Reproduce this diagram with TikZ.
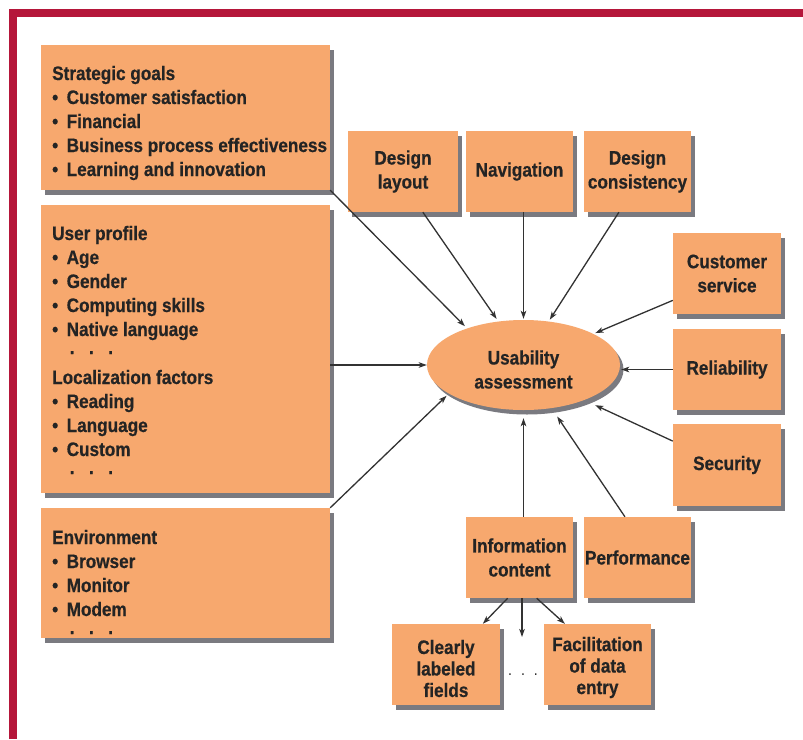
\documentclass[tikz,border=0pt]{standalone}
\usepackage{fontspec}
\setmainfont{Liberation Sans}[FakeStretch=0.88, BoldFeatures={FakeBold=0.6}]
\usetikzlibrary{arrows.meta,shapes.geometric,shadows,calc}

\definecolor{boxfill}{RGB}{247,168,110}
\definecolor{shadowgray}{RGB}{122,122,128}
\definecolor{framered}{RGB}{181,22,58}
\definecolor{ink}{RGB}{36,36,36}
\definecolor{wire}{RGB}{50,50,50}

% bullet with its gap, and the raised "more items" dots
\newcommand\itm{•\hspace{8.5pt}}
\newcommand\moreitems{\raisebox{6pt}{\hspace{17.5pt}.\hspace{14.5pt}.\hspace{14.5pt}.}}

\begin{document}
\begin{tikzpicture}[x=1pt,y=-1pt,
  card/.style={rectangle, fill=boxfill, inner sep=0pt,
    drop shadow={shadow xshift=3.5pt, shadow yshift=-4.5pt, fill=shadowgray, opacity=1}},
  labelfont/.style={text=ink, font=\bfseries\fontsize{19.5}{24}\selectfont},
  tile/.style={card, minimum width=107pt, minimum height=81pt, align=center, labelfont},
  caption/.style={inner sep=0pt, align=center, labelfont},
  listtext/.style={anchor=base west, inner sep=0pt, align=left, labelfont},
  conn/.style={draw=wire, line width=1.3pt, -{Stealth[length=8pt,width=5.5pt,inset=2pt]}},
]
\useasboundingbox (0,0) rectangle (803,739);
\fill[white] (0,0) rectangle (803,739);

% frame
\draw[framered, line width=7.7pt] (12.85,739) -- (12.85,12.85) -- (803,12.85);

% left panels
\node[card, minimum width=289pt, minimum height=145pt] (sg) at (185.5,117.5) {};
\node[card, minimum width=289pt, minimum height=288pt] (up) at (185.5,349) {};
\node[card, minimum width=289pt, minimum height=130pt] (env) at (185.5,573) {};

% list texts, anchored at the baseline of their last line
\node[listtext] (sgtext) at (52,176) {Strategic goals\\
  \itm Customer satisfaction\\
  \itm Financial\\
  \itm Business process effectiveness\\
  \itm Learning and innovation};
\node[listtext] (uptext) at (52,480) {User profile\\
  \itm Age\\
  \itm Gender\\
  \itm Computing skills\\
  \itm Native language\\
  \moreitems\\
  Localization factors\\
  \itm Reading\\
  \itm Language\\
  \itm Custom\\
  \moreitems};
\node[listtext] (envtext) at (52,640) {Environment\\
  \itm Browser\\
  \itm Monitor\\
  \itm Modem\\
  \moreitems};

% top row
\node[tile, minimum width=110pt] (dl) at (403,171.5) {Design\\layout};
\node[tile] (nav) at (519.5,171.5) {Navigation};
\node[tile] (dc) at (637.5,171.5) {Design\\consistency};

% right column
\node[tile, minimum width=108pt] (cs) at (727,273.5) {Customer\\service};
\node[tile, minimum width=108pt] (rel) at (727,369.5) {Reliability};
\node[tile, minimum width=108pt, minimum height=82pt] (sec) at (727,465) {Security};

% bottom row
\node[tile] (info) at (519.5,557.5) {Information\\content};
\node[tile] (perf) at (637.5,557.5) {Performance};
\node[tile, minimum width=108pt] (cl) at (446,664.5) {};
\node[caption, font=\bfseries\fontsize{19.5}{21.5}\selectfont] (cltext) at (446,668.5) {Clearly\\labeled\\fields};
\node[tile] (fac) at (597.5,664.5) {};
\node[caption, font=\bfseries\fontsize{19.5}{21.5}\selectfont] (factext) at (597.5,667.5) {Facilitation\\of data\\entry};
\node[text=ink, inner sep=0pt, font=\fontsize{16}{18}\selectfont] (gap) at (523,675) {.\hspace{9pt}.\hspace{9pt}.};

% centre
\node[card, ellipse, minimum width=193pt, minimum height=90pt] (ua) at (523.5,365) {};
\node[caption] (uatext) at (523.5,369.5) {Usability\\assessment};

% connectors into the centre
\draw[conn, shorten >=3pt] (sg.south east) -- (ua.147);
\draw[conn, shorten >=3pt] ($(dl.south west)!0.68!(dl.south east)$) -- (ua.120);
\draw[conn, shorten >=1pt] (ua.north |- nav.south) -- (ua.north);
\draw[conn, shorten >=2pt] ($(dc.south west)!0.327!(dc.south east)$) -- (ua.60);
\draw[conn, shorten >=2pt] ($(cs.south west)!0.17!(cs.north west)$) -- (ua.24);
\draw[conn, shorten >=1pt] (rel.west) -- (rel.west -| ua.east);
\draw[conn] (up.east |- ua.west) -- (ua.west);
\draw[conn, shorten >=3pt] (env.north east) -- (ua.201);
\draw[conn, shorten >=12pt] ($(sec.north west)!0.21!(sec.south west)$) -- (ua.330);
\draw[conn, shorten >=10pt] ($(perf.north west)!0.383!(perf.north east)$) -- (ua.303);
\draw[conn, shorten >=8pt] (ua.south |- info.north) -- (ua.south);

% information content breakdown
\coordinate (drop) at (522,637);
\draw[conn] ($(info.south west)!0.39!(info.south east)$) -- ($(cl.north west)!0.84!(cl.north east)$);
\draw[conn] (info.south -| drop) -- (drop);
\draw[conn] ($(info.south west)!0.66!(info.south east)$) -- ($(fac.north west)!0.196!(fac.north east)$);
\end{tikzpicture}
\end{document}
